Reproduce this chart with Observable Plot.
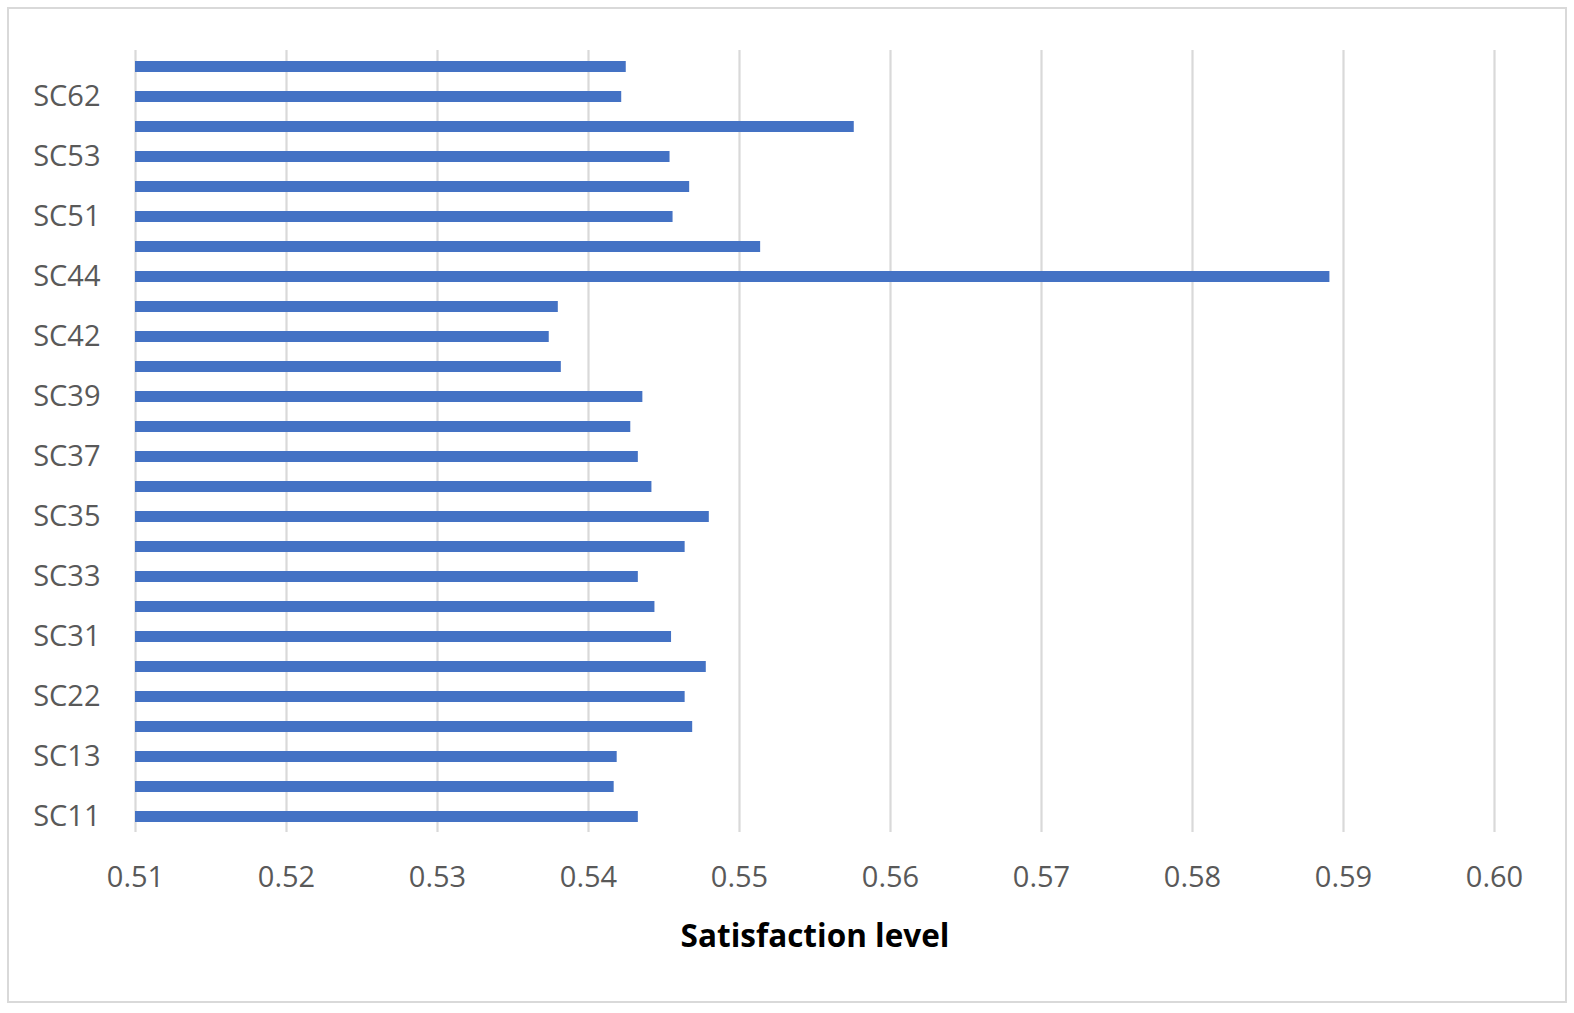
<!DOCTYPE html>
<html>
<head>
<meta charset="utf-8">
<script src="https://cdn.jsdelivr.net/npm/d3@7"></script>
<script src="https://cdn.jsdelivr.net/npm/@observablehq/plot@0.6"></script>
<style>
  html, body { margin: 0; padding: 0; background: #fff; }
  #wrap { position: relative; width: 1574px; height: 1013px; overflow: hidden; }
  #border { position: absolute; left: 7px; top: 7px; width: 1556px; height: 992px; border: 2px solid #D9D9D9; box-sizing: content-box; pointer-events: none; }
  #chart { position: absolute; left: 0; top: 0; }
</style>
</head>
<body>
<div id="wrap"><div id="chart"></div><div id="border"></div></div>
<script>
// Categories from bottom to top
const categories = ["SC11","SC12","SC13","SC21","SC22","SC23","SC31","SC32","SC33","SC34","SC35","SC36","SC37","SC38","SC39","SC41","SC42","SC43","SC44","SC45","SC51","SC52","SC53","SC61","SC62","SC63"];
const values = [0.5433,0.5417,0.5419,0.5469,0.5464,0.5478,0.5455,0.5444,0.5433,0.5464,0.5480,0.5442,0.5433,0.5428,0.5436,0.5382,0.5374,0.5380,0.5891,0.5514,0.5456,0.5467,0.5454,0.5576,0.5422,0.5425];
const labeledCategories = ["SC11","SC13","SC22","SC31","SC33","SC35","SC37","SC39","SC42","SC44","SC51","SC53","SC62"];
const xTicks = [0.51,0.52,0.53,0.54,0.55,0.56,0.57,0.58,0.59,0.60];
const xDomain = [0.51, 0.60];
const axisTitle = "Satisfaction level";

const data = categories.map((c, i) => ({cat: c, value: values[i]}));

const chart = Plot.plot({
  width: 1574,
  height: 1013,
  marginLeft: 135,
  marginRight: 80,
  marginTop: 50,
  marginBottom: 181,
  style: {fontFamily: "'Open Sans', sans-serif", background: "transparent"},
  x: {domain: xDomain},
  y: {domain: [...categories].reverse(), paddingInner: 0.65, paddingOuter: 0.325},
  marks: [
    Plot.gridX(xTicks, {stroke: "#D9D9D9", strokeWidth: 2.2, strokeOpacity: 1}),
    Plot.barX(data, {y: "cat", x1: xDomain[0], x2: "value", fill: "#4472C4"}),
    Plot.axisX({ticks: xTicks, tickFormat: d3.format(".2f"), tickSize: 0, tickPadding: 34, fontSize: 29, fill: "#595959", label: null}),
    Plot.axisY({ticks: labeledCategories, tickSize: 0, tickPadding: 35, fontSize: 29, fill: "#595959", label: null}),
    Plot.text([axisTitle], {text: d => d, frameAnchor: "bottom", dy: 104, lineAnchor: "middle", fontSize: 31.5, fontWeight: "bold", fill: "#000"})
  ]
});
document.getElementById("chart").appendChild(chart);
</script>
</body>
</html>
